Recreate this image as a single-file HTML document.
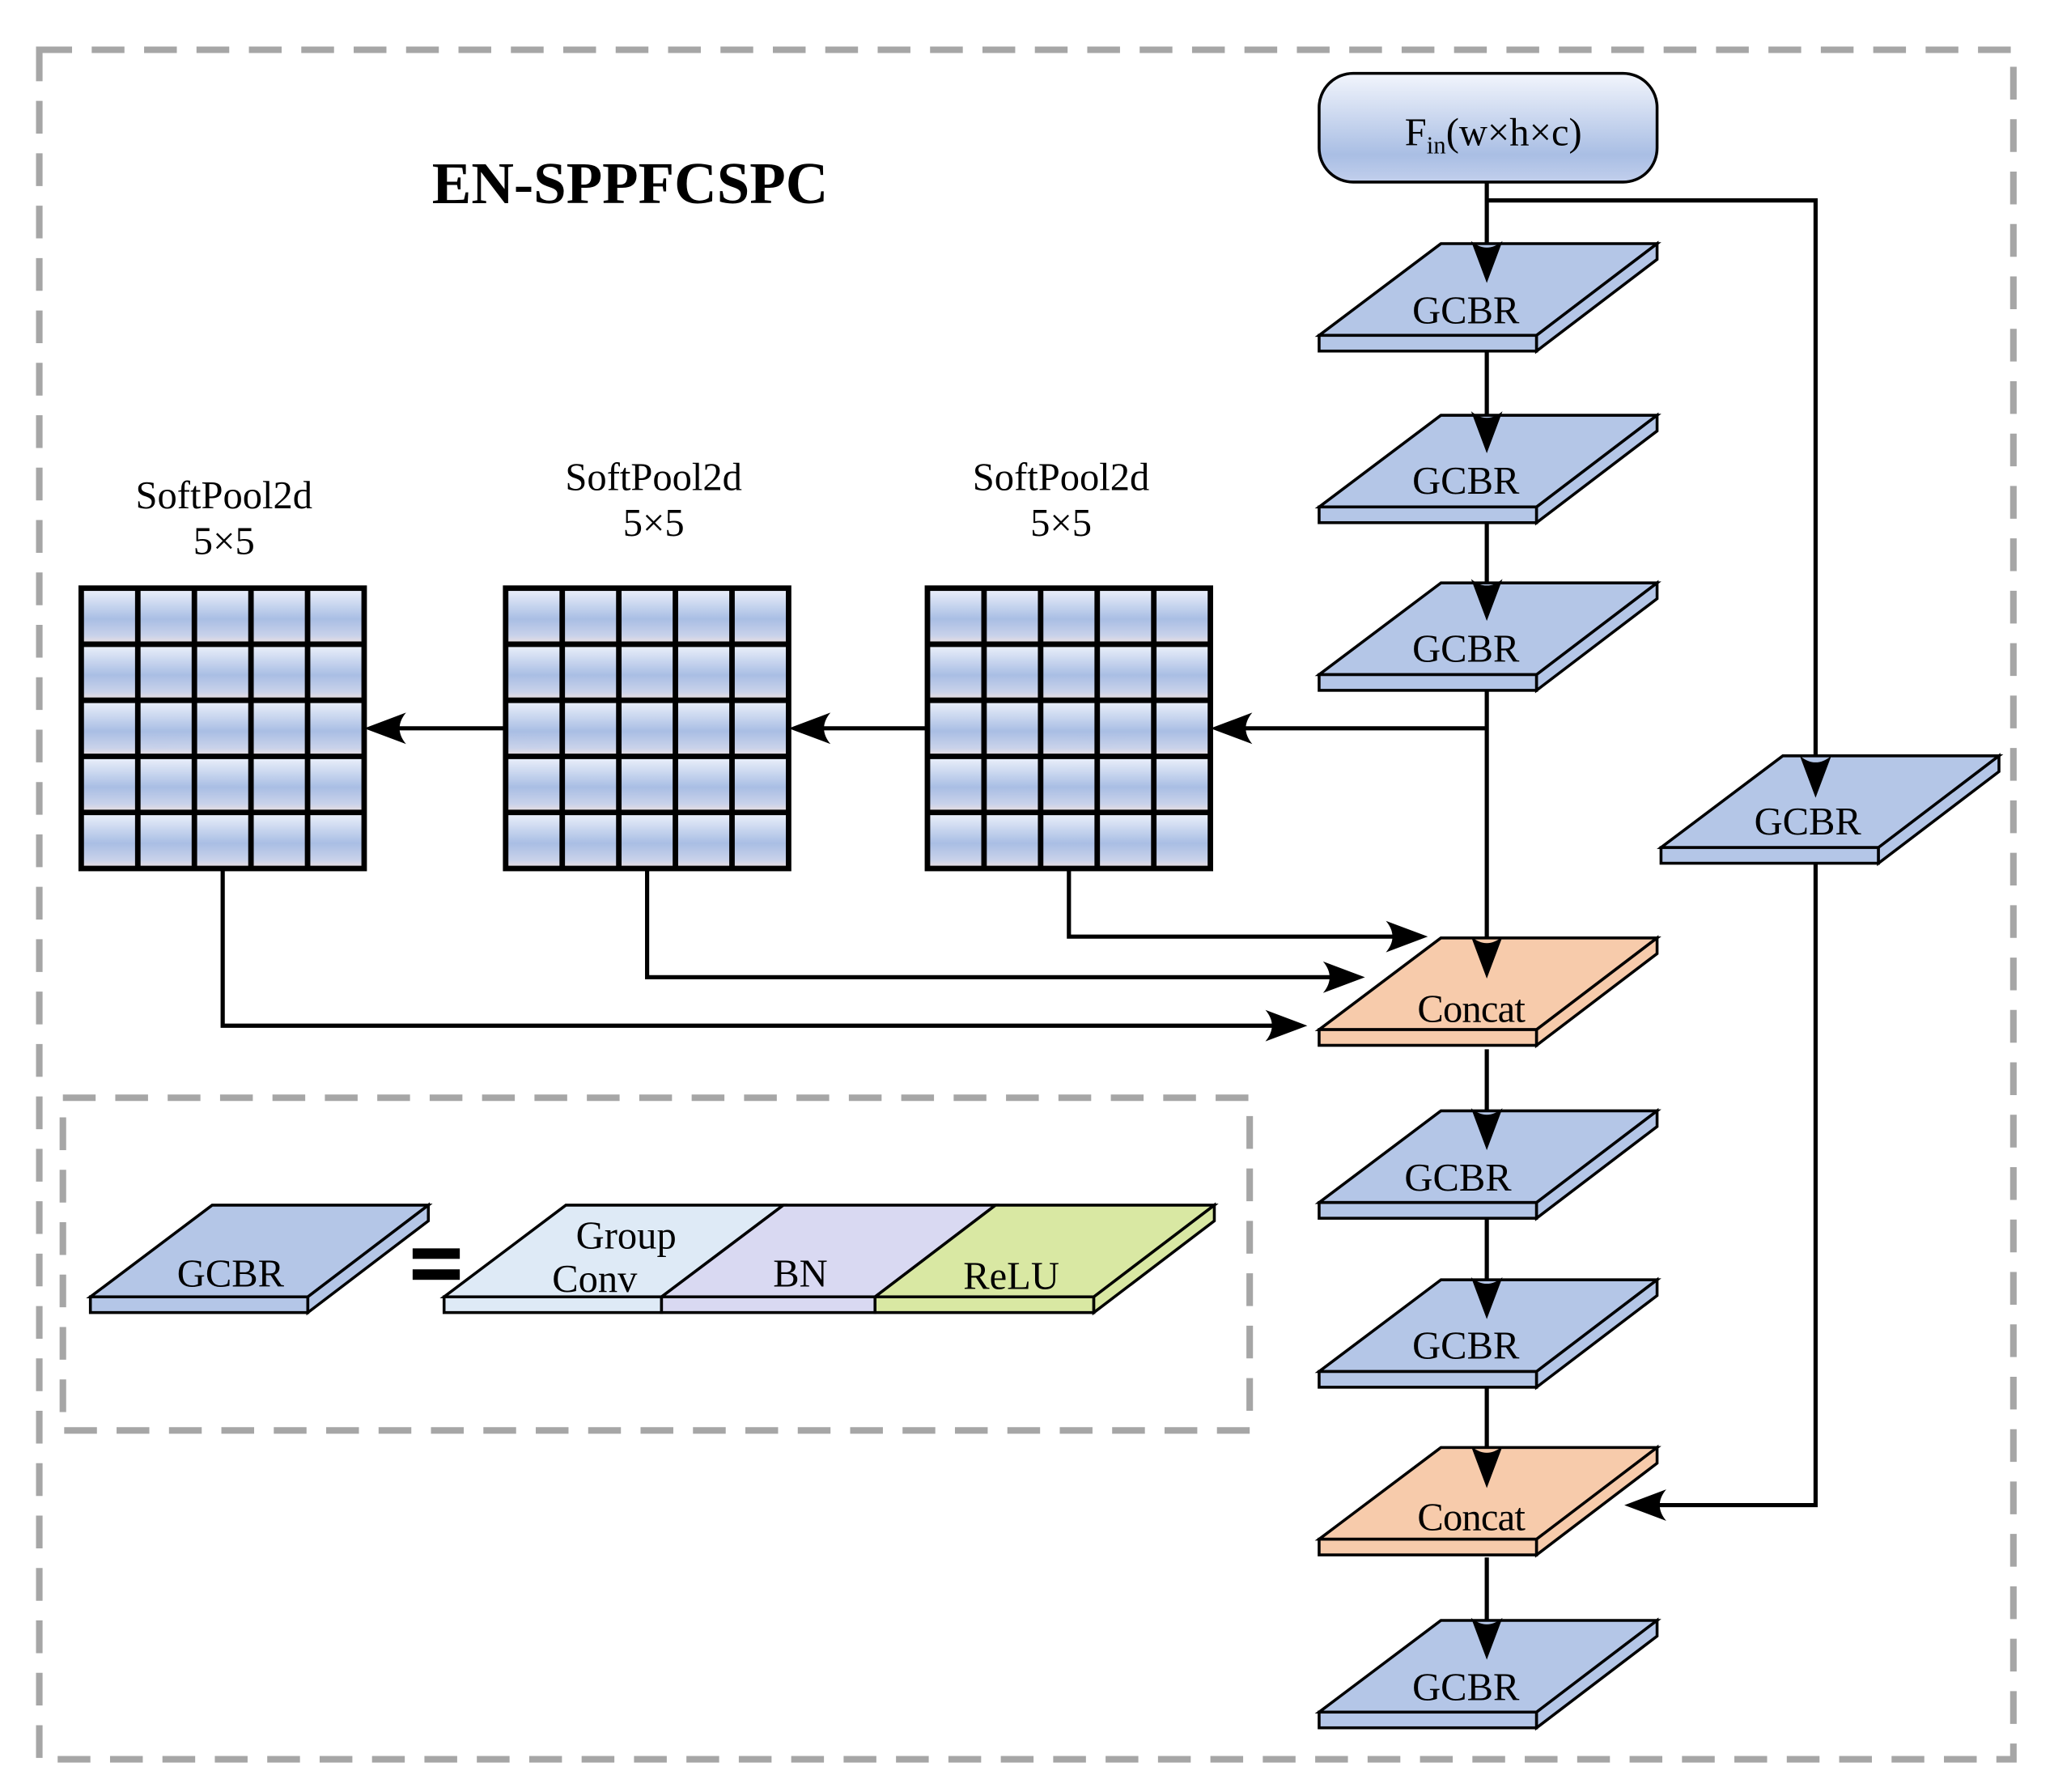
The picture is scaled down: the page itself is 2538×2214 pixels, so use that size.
<!DOCTYPE html>
<html><head><meta charset="utf-8"><style>html,body{margin:0;padding:0;background:#fff}svg{display:block}</style></head>
<body>
<svg width="2538" height="2214" viewBox="0 0 1568 1368" preserveAspectRatio="none" xmlns="http://www.w3.org/2000/svg" font-family="'Liberation Serif', serif">
<defs>
<linearGradient id="fin" x1="0" y1="0" x2="0" y2="1">
<stop offset="0" stop-color="#f2f5fc"/><stop offset="0.75" stop-color="#a9bee4"/><stop offset="1" stop-color="#c2cfec"/>
</linearGradient>
<linearGradient id="cell" x1="0" y1="0" x2="0" y2="1">
<stop offset="0" stop-color="#eef2fb"/><stop offset="0.55" stop-color="#a9bee4"/><stop offset="0.85" stop-color="#c9d2ea"/><stop offset="1" stop-color="#efe2e0"/>
</linearGradient>
<pattern id="cp" width="43.2" height="42.8" patternUnits="userSpaceOnUse">
<rect width="43.2" height="42.8" fill="url(#cell)"/>
</pattern>
<g id="grid">
<rect x="0" y="0" width="216" height="214" fill="url(#cp)"/>
<g stroke="#000" stroke-width="4.2" fill="none">
<rect x="0" y="0" width="216" height="214"/>
<line x1="43.2" y1="0" x2="43.2" y2="214"/><line x1="86.4" y1="0" x2="86.4" y2="214"/><line x1="129.6" y1="0" x2="129.6" y2="214"/><line x1="172.8" y1="0" x2="172.8" y2="214"/>
<line x1="0" y1="42.8" x2="216" y2="42.8"/><line x1="0" y1="85.6" x2="216" y2="85.6"/><line x1="0" y1="128.4" x2="216" y2="128.4"/><line x1="0" y1="171.2" x2="216" y2="171.2"/>
</g></g>
<g id="blkB" stroke="#000" stroke-width="2.2" fill="#b4c6e7" stroke-linejoin="miter">
<polygon points="93,0 258,0 166,70 0,70"/>
<rect x="0" y="70" width="166" height="12"/>
<polygon points="166,70 258,0 258,12 166,82"/>
</g>
<g id="blkC" stroke="#000" stroke-width="2.2" fill="#f7cbab">
<polygon points="93,0 258,0 166,70 0,70"/>
<rect x="0" y="70" width="166" height="12"/>
<polygon points="166,70 258,0 258,12 166,82"/>
</g>
<path id="ad" d="M0,0 L-12,-32 Q0,-22 12,-32 Z" fill="#000"/>
</defs>

<rect x="30" y="38" width="1507" height="1305" fill="none" stroke="#a6a6a6" stroke-width="5" stroke-dasharray="25,15"/>
<rect x="48" y="838" width="906" height="254" fill="none" stroke="#a6a6a6" stroke-width="5" stroke-dasharray="25,15"/>

<text x="481" y="155" font-size="45" font-weight="bold" text-anchor="middle">EN-SPPFCSPC</text>

<rect x="1007" y="56" width="258" height="83" rx="26" fill="url(#fin)" stroke="#000" stroke-width="2.2"/>
<text x="1140" y="111" font-size="30" text-anchor="middle">F<tspan font-size="19" dy="6">in</tspan><tspan dy="-6">(w×h×c)</tspan></text>

<g stroke="#000" stroke-width="3.2" fill="none">
<line x1="1135" y1="139" x2="1135" y2="205"/>
<polyline points="1135,153 1386,153 1386,598"/>
<line x1="1135" y1="268" x2="1135" y2="335"/>
<line x1="1135" y1="398" x2="1135" y2="463"/>
<line x1="1135" y1="526" x2="1135" y2="736"/>
<line x1="1135" y1="556" x2="944" y2="556"/>
<line x1="708" y1="556" x2="622" y2="556"/>
<line x1="386" y1="556" x2="298" y2="556"/>
<polyline points="816,663 816,715 1070,715"/>
<polyline points="494,663 494,746 1022,746"/>
<polyline points="170,663 170,783 978,783"/>
<line x1="1135" y1="801" x2="1135" y2="867"/>
<line x1="1135" y1="930" x2="1135" y2="996"/>
<line x1="1135" y1="1059" x2="1135" y2="1125"/>
<line x1="1135" y1="1189" x2="1135" y2="1256"/>
<polyline points="1386,658 1386,1149 1260,1149"/>
</g>

<use href="#grid" x="62" y="449"/>
<use href="#grid" x="386" y="449"/>
<use href="#grid" x="708" y="449"/>
<g font-size="30" text-anchor="middle">
<text x="171" y="388">SoftPool2d</text><text x="171" y="423">5×5</text>
<text x="499" y="374">SoftPool2d</text><text x="499" y="409">5×5</text>
<text x="810" y="374">SoftPool2d</text><text x="810" y="409">5×5</text>
</g>

<use href="#blkB" x="1007" y="186"/>
<use href="#blkB" x="1007" y="317"/>
<use href="#blkB" x="1007" y="445"/>
<use href="#blkC" x="1007" y="716"/>
<use href="#blkB" x="1007" y="848"/>
<use href="#blkB" x="1007" y="977"/>
<use href="#blkC" x="1007" y="1105"/>
<use href="#blkB" x="1007" y="1237"/>
<use href="#blkB" x="1268" y="577"/>
<use href="#blkB" x="69" y="920"/>

<use href="#ad" transform="translate(1135,216)"/>
<use href="#ad" transform="translate(1135,346)"/>
<use href="#ad" transform="translate(1135,474)"/>
<use href="#ad" transform="translate(1135,747)"/>
<use href="#ad" transform="translate(1135,878)"/>
<use href="#ad" transform="translate(1135,1007)"/>
<use href="#ad" transform="translate(1135,1136)"/>
<use href="#ad" transform="translate(1135,1267)"/>
<use href="#ad" transform="translate(1386,609)"/>
<use href="#ad" transform="translate(924,556) rotate(90)"/>
<use href="#ad" transform="translate(602,556) rotate(90)"/>
<use href="#ad" transform="translate(278,556) rotate(90)"/>
<use href="#ad" transform="translate(1240,1149) rotate(90)"/>
<use href="#ad" transform="translate(1090,715) rotate(-90)"/>
<use href="#ad" transform="translate(1042,746) rotate(-90)"/>
<use href="#ad" transform="translate(998,783) rotate(-90)"/>

<g font-size="30" text-anchor="middle">
<text x="1119" y="247">GCBR</text>
<text x="1119" y="377">GCBR</text>
<text x="1119" y="505">GCBR</text>
<text x="1123" y="780" letter-spacing="-0.5">Concat</text>
<text x="1113" y="909">GCBR</text>
<text x="1119" y="1037">GCBR</text>
<text x="1123" y="1168" letter-spacing="-0.5">Concat</text>
<text x="1119" y="1298">GCBR</text>
<text x="1380" y="637">GCBR</text>
<text x="176" y="982">GCBR</text>
</g>

<rect x="315" y="953" width="36" height="8" fill="#000"/>
<rect x="315" y="969" width="36" height="8" fill="#000"/>

<g stroke="#000" stroke-width="2.2">
<polygon points="432,920 598,920 505,990 339,990" fill="#deeaf6"/>
<polygon points="598,920 760,920 668,990 505,990" fill="#d9d9f2"/>
<polygon points="760,920 927,920 835,990 668,990" fill="#d9e8a3"/>
<rect x="339" y="990" width="166" height="12" fill="#deeaf6"/>
<rect x="505" y="990" width="163" height="12" fill="#d9d9f2"/>
<rect x="668" y="990" width="167" height="12" fill="#d9e8a3"/>
<polygon points="835,990 927,920 927,932 835,1002" fill="#d9e8a3"/>
</g>
<g font-size="30" text-anchor="middle">
<text x="478" y="953">Group</text>
<text x="454" y="986">Conv</text>
<text x="611" y="982">BN</text>
<text x="772" y="984">ReLU</text>
</g>
</svg>
</body></html>
